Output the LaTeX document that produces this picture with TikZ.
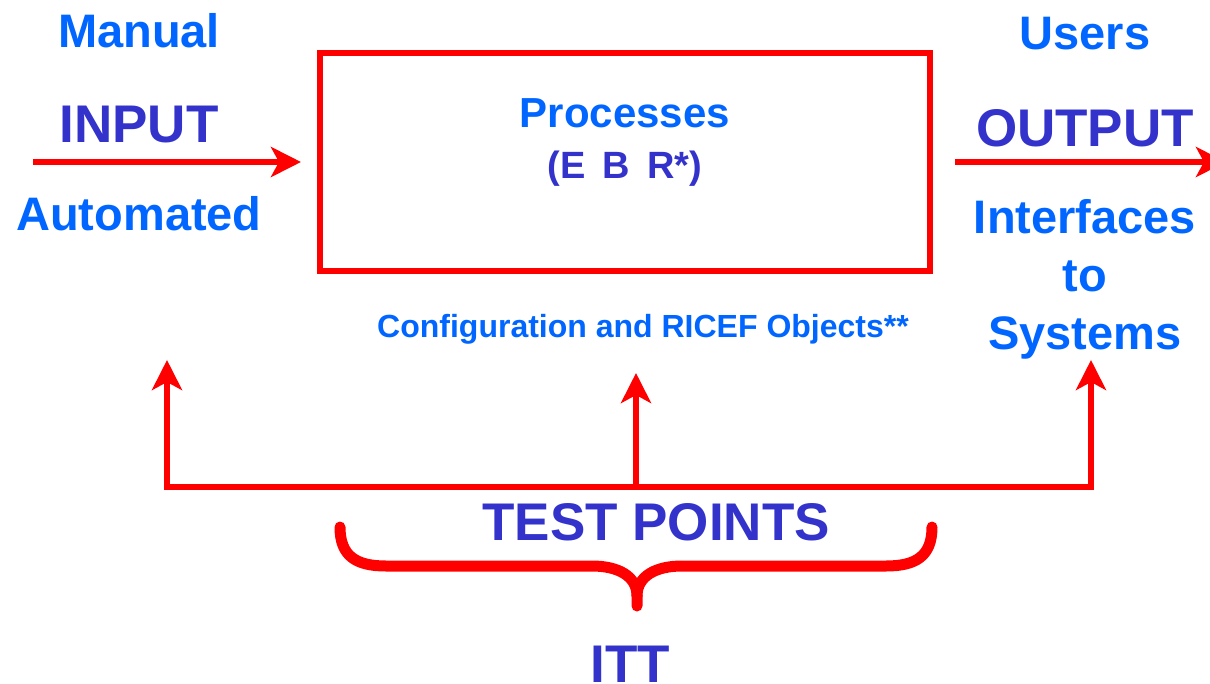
\documentclass[tikz,border=0pt]{standalone}
\usepackage{xcolor}
\usepackage{fontspec}
\setmainfont{Liberation Sans}
\usepackage{tikz}
\usetikzlibrary{arrows.meta}
\usetikzlibrary{positioning}
\definecolor{lightblu}{HTML}{0066FF}
\definecolor{darkblu}{HTML}{3333CC}

\begin{document}
\begin{tikzpicture}[
  x=1pt, y=-1pt,
  thick,
  font=\bfseries
]
\tikzset{
    bigword/.style = {text=darkblu, inner sep=0pt, anchor=base, font=\fontsize{53}{64}\selectfont\bfseries},
    smallword/.style = {text=lightblu, inner sep=0pt, anchor=base, align=center, font=\fontsize{47}{58}\selectfont\bfseries},
    redline/.style = {draw=red, line width=6pt},
    redarrow/.style = {redline, -{Stealth[length=30pt,width=30pt,inset=8pt]}},
    bracestroke/.style = {draw=red, line width=11pt, line cap=round, line join=round}
}
\useasboundingbox (0,0) rectangle (1210,683);

% the process box
\node[draw=red, line width=6pt, minimum width=610pt, minimum height=218pt, inner sep=0pt] (box) at (625,162) {};
\node[smallword, font=\fontsize{42}{50}\selectfont\bfseries] (proc) at (625,127) {Processes};
\node[bigword, font=\fontsize{38}{46}\selectfont\bfseries] (ebr) at (625,178) {(E\hspace{0.45em}B\hspace{0.45em}R*)};
\node[smallword, font=\fontsize{32}{38}\selectfont\bfseries] (cfg) at (643,337) {Configuration and RICEF Objects**};

% input side
\node[smallword] (man) at (139,47) {Manual};
\node[bigword] (inp) at (139,142) {INPUT};
\node[smallword] (auto) at (139,230) {Automated};
\coordinate (inStart) at (33,162);
\draw[redarrow, shorten >=16pt] (inStart) -- (box.west);

% output side
\node[smallword] (usr) at (1085,49) {Users};
\node[bigword] (outp) at (1085,146) {OUTPUT};
\node[smallword] (ifc) at (1085,349) {Interfaces\\to\\Systems};
\coordinate (outEnd) at (1226,162);
\draw[redarrow, shorten <=22pt] (box.east) -- (outEnd);

% test points
\coordinate (tpL) at (167,487);
\coordinate (tpM) at (636,487);
\coordinate (tpR) at (1091,487);
\coordinate (upL) at (167,360);
\coordinate (upM) at (636,373);
\coordinate (upR) at (1091,360);
\draw[redline, {Stealth[length=30pt,width=30pt,inset=8pt]}-{Stealth[length=30pt,width=30pt,inset=8pt]}] (upL) -- (tpL) -- (tpR) -- (upR);
\draw[redarrow] (tpM) -- (upM);
\node[bigword] (tp) at (656,540) {TEST POINTS};

% brace
\draw[bracestroke] (340,527) .. controls (340,556) and (356,566) .. (386,566) -- (592,566)
  .. controls (618,566) and (637,576) .. (637,596) -- (637,606);
\draw[bracestroke] (932,527) .. controls (932,556) and (916,566) .. (886,566) -- (682,566)
  .. controls (656,566) and (637,576) .. (637,596);
\node[bigword] (itt) at (630,682) {ITT};
\end{tikzpicture}
\end{document}
